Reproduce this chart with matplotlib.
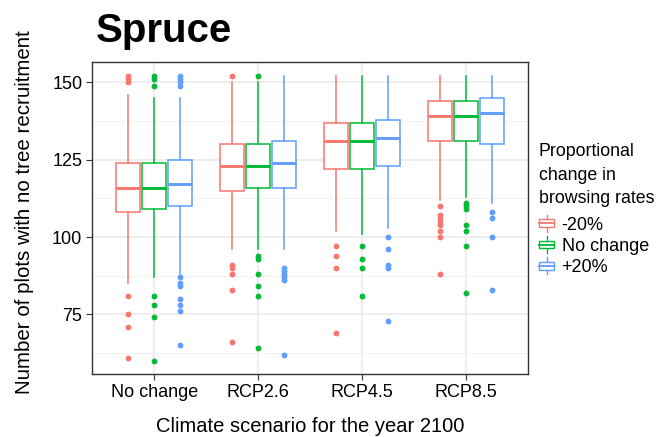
import numpy as np
import matplotlib
matplotlib.use("Agg")
import matplotlib.pyplot as plt
from matplotlib.patches import Rectangle
from matplotlib.lines import Line2D
from matplotlib.legend_handler import HandlerBase
from matplotlib.ticker import MultipleLocator

plt.rcParams['font.family'] = ['Liberation Sans', 'DejaVu Sans']

scenarios = ["No change", "RCP2.6", "RCP4.5", "RCP8.5"]
rates = ["-20%", "No change", "+20%"]
colors = ["#F8766D", "#00BA38", "#619CFF"]

# -20% browsing
med_minus = [116, 123, 131, 139]
q1_minus = [108, 115, 122, 131]
q3_minus = [124, 130, 137, 144]
lo_minus = [85, 96, 102, 112]
hi_minus = [146, 150, 152, 152]
out_minus = [[150, 151, 152, 81, 75, 71, 61],
             [152, 91, 90, 88, 83, 66],
             [97, 94, 90, 69],
             [110, 107, 106, 105, 104, 102, 100, 88]]

# no change in browsing
med_none = [116, 123, 131, 139]
q1_none = [109, 116, 122, 131]
q3_none = [124, 130, 137, 144]
lo_none = [87, 96, 101, 113]
hi_none = [145, 150, 152, 152]
out_none = [[152, 151, 149, 81, 78, 74, 60],
            [152, 94, 93, 88, 84, 81, 64],
            [97, 93, 90, 81],
            [111, 110, 109, 104, 102, 97, 82]]

# +20% browsing
med_plus = [117, 124, 132, 140]
q1_plus = [110, 116, 123, 130]
q3_plus = [125, 131, 138, 145]
lo_plus = [88, 96, 103, 111]
hi_plus = [145, 152, 152, 152]
out_plus = [[152, 151, 150, 149, 87, 85, 84, 80, 78, 76, 65],
            [90, 89, 88, 87, 86, 62],
            [100, 96, 91, 90, 73],
            [108, 106, 100, 83]]

groups = [
    (med_minus, q1_minus, q3_minus, lo_minus, hi_minus, out_minus),
    (med_none, q1_none, q3_none, lo_none, hi_none, out_none),
    (med_plus, q1_plus, q3_plus, lo_plus, hi_plus, out_plus),
]


class BoxKey(HandlerBase):
    # little boxplot glyph for the legend, like ggplot's key
    def create_artists(self, legend, orig_handle, xdescent, ydescent,
                       width, height, fontsize, trans):
        c = orig_handle.get_edgecolor()
        x0 = -xdescent
        y0 = -ydescent
        bw = width
        bh = height * 0.62
        by = y0 + (height - bh) / 2
        box = Rectangle((x0, by), bw, bh, facecolor="white", edgecolor=c,
                        linewidth=1.0, transform=trans)
        med = Line2D([x0, x0 + bw], [by + bh / 2] * 2, color=c, linewidth=1.3,
                     transform=trans)
        w1 = Line2D([x0 + bw / 2] * 2, [y0 - height * 0.15, by], color=c,
                    linewidth=1.0, transform=trans)
        w2 = Line2D([x0 + bw / 2] * 2, [by + bh, y0 + height * 1.15], color=c,
                    linewidth=1.0, transform=trans)
        return [w1, w2, box, med]


fig = plt.figure(figsize=(6.64, 4.37), dpi=100)
ax = fig.add_axes([92 / 664, 1 - 374 / 437, (528 - 92) / 664, (374 - 62) / 437])

offsets = [-0.25, 0.0, 0.25]
for j, (med, q1, q3, lo, hi, out) in enumerate(groups):
    stats = []
    for i in range(len(scenarios)):
        stats.append(dict(med=med[i], q1=q1[i], q3=q3[i], whislo=lo[i],
                          whishi=hi[i], fliers=out[i]))
    pos = [i + 1 + offsets[j] for i in range(len(scenarios))]
    c = colors[j]
    ax.bxp(stats, positions=pos, widths=0.23, patch_artist=True,
           showcaps=False, manage_ticks=False,
           boxprops=dict(facecolor="white", edgecolor=c, linewidth=1.1),
           medianprops=dict(color=c, linewidth=2.1, solid_capstyle="butt"),
           whiskerprops=dict(color=c, linewidth=1.1),
           flierprops=dict(marker="o", markerfacecolor=c, markeredgewidth=0,
                           markersize=4.2, linestyle="none"),
           zorder=3)

ax.set_xlim(0.4, 4.6)
ax.set_ylim(55.7, 156.6)
ax.set_xticks(range(1, len(scenarios) + 1))
ax.set_xticklabels(scenarios)
ax.set_yticks([75, 100, 125, 150])
ax.yaxis.set_minor_locator(MultipleLocator(12.5))
ax.tick_params(axis="y", which="minor", length=0)
ax.tick_params(axis="both", which="major", length=4, width=0.8,
               color="#333333", labelsize=13, labelcolor="black", pad=3)

ax.grid(True, which="major", color="#EBEBEB", linewidth=1.2, zorder=0)
ax.grid(True, which="minor", axis="y", color="#F2F2F2", linewidth=0.8, zorder=0)
ax.set_axisbelow(True)
for s in ax.spines.values():
    s.set_color("#333333")
    s.set_linewidth(1.0)

ax.set_xlabel("Climate scenario for the year 2100", fontsize=14.5, labelpad=12)
ax.set_ylabel("Number of plots with no tree recruitment", fontsize=14.8)
ax.yaxis.set_label_coords(-0.133, 0.519)
fig.text(96 / 664, 1 - 42 / 437, "Spruce", fontsize=29, fontweight="bold",
         ha="left", va="baseline")

handles = [Rectangle((0, 0), 1, 1, facecolor="white", edgecolor=c) for c in colors]
leg = fig.legend(handles, rates, handler_map={Rectangle: BoxKey()},
                 loc="upper left", bbox_to_anchor=(539 / 664, 1 - 143 / 437),
                 frameon=False, fontsize=13,
                 title="Proportional\nchange in\nbrowsing rates",
                 title_fontsize=12.8, alignment="left",
                 handlelength=0.85, handleheight=0.7, handletextpad=0.4,
                 labelspacing=0.23, borderpad=0, borderaxespad=0)
leg.get_title().set_linespacing(1.5)
leg._legend_box.sep = 7

fig.savefig("out.png", dpi=100)
